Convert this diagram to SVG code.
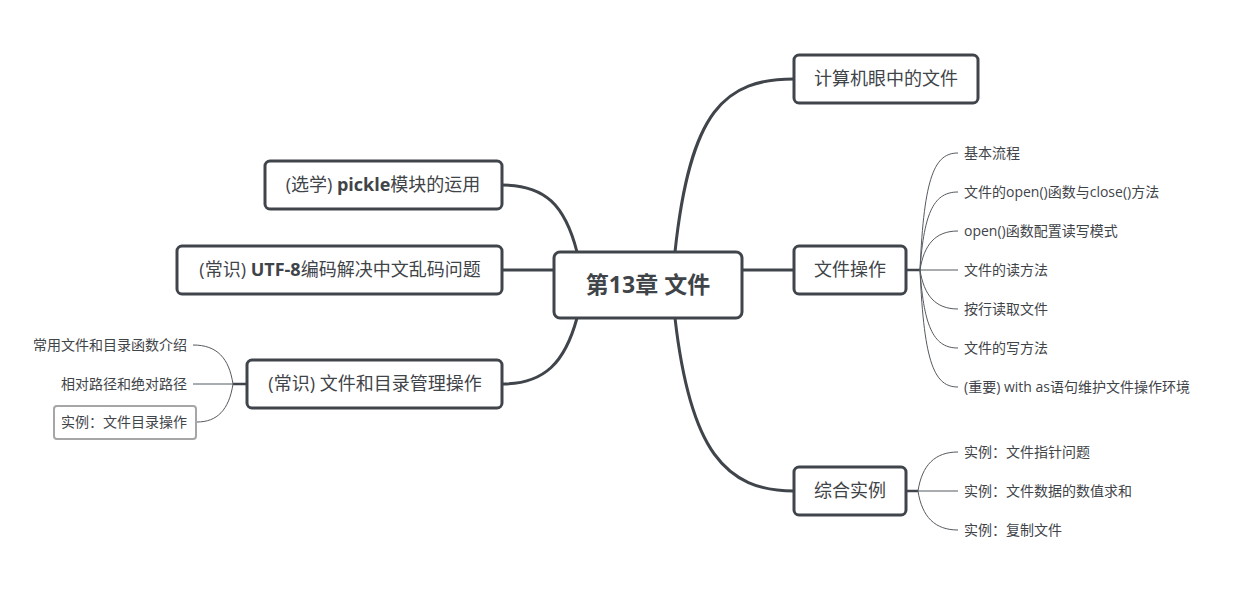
<svg xmlns="http://www.w3.org/2000/svg" width="1240" height="596" viewBox="0 0 1240 596">
<style>
.main{fill:#fff;stroke:#40454c;stroke-width:3}
.t{font-family:"Open Sans","Noto Sans CJK SC",sans-serif;fill:#3f4449}
.m{font-size:18px;text-anchor:middle}
.s{font-size:14px}
.c{fill:none;stroke:#40454c;stroke-width:3}
.sc{fill:none;stroke:#555a60;stroke-width:1}
.stub{fill:none;stroke:#40454c;stroke-width:2.5}
</style>
<rect width="1240" height="596" fill="#fff"/>
<g id="connectors">
<path class="c" d="M675 252 C690 110 725 79 794 79"/>
<path class="c" d="M742 270 L794 270"/>
<path class="c" d="M675 318 C690 450 725 491 794 491"/>
<path class="c" d="M577 252 C565 205 545 185 502 185"/>
<path class="c" d="M554 270 L502 270"/>
<path class="c" d="M577 318 C565 362 545 384 502 384"/>
<path class="stub" d="M906 270 L920 270"/>
<path class="sc" d="M920 270 C924 175 935 153 958 153"/>
<path class="sc" d="M920 270 C924 210 935 192 958 192"/>
<path class="sc" d="M920 270 C924 245 935 231 958 231"/>
<path class="sc" d="M920 270 L958 270"/>
<path class="sc" d="M920 270 C924 295 935 309 958 309"/>
<path class="sc" d="M920 270 C924 330 935 348 958 348"/>
<path class="sc" d="M920 270 C924 365 935 387 958 387"/>
<path class="stub" d="M906 491 L918 491"/>
<path class="sc" d="M918 491 C922 465 935 452 958 452"/>
<path class="sc" d="M918 491 L958 491"/>
<path class="sc" d="M918 491 C922 517 935 530 958 530"/>
<path class="stub" d="M247 384 L233 384"/>
<path class="sc" d="M233 384 C229 358 217 345 193 345"/>
<path class="sc" d="M233 384 L193 384"/>
<path class="sc" d="M233 384 C229 410 217 422 197 422"/>
</g>
<g id="root">
<rect class="main" x="554" y="252" width="188" height="66" rx="6"/>
<text class="t" x="648" y="293" font-size="23" font-weight="bold" text-anchor="middle">第13章 文件</text>
</g>
<g id="n1">
<rect class="main" x="794" y="55" width="184" height="48" rx="5"/>
<text class="t m" x="886" y="85">计算机眼中的文件</text>
</g>
<g id="n2">
<rect class="main" x="794" y="246" width="112" height="48" rx="5"/>
<text class="t m" x="850" y="276">文件操作</text>
</g>
<g id="n3">
<rect class="main" x="794" y="467" width="112" height="48" rx="5"/>
<text class="t m" x="850" y="497">综合实例</text>
</g>
<g id="n4">
<rect class="main" x="265" y="161" width="237" height="48" rx="5"/>
<text class="t m" x="383" y="191">(选学) <tspan font-weight="bold">pickle</tspan>模块的运用</text>
</g>
<g id="n5">
<rect class="main" x="177" y="246" width="325" height="48" rx="5"/>
<text class="t m" x="340" y="276">(常识) <tspan font-weight="bold">UTF-8</tspan>编码解决中文乱码问题</text>
</g>
<g id="n6">
<rect class="main" x="247" y="360" width="255" height="48" rx="5"/>
<text class="t m" x="375" y="390">(常识) 文件和目录管理操作</text>
</g>
<g id="n2-children">
<text class="t s" x="964" y="158">基本流程</text>
<text class="t s" x="964" y="197">文件的open()函数与close()方法</text>
<text class="t s" x="964" y="236">open()函数配置读写模式</text>
<text class="t s" x="964" y="275">文件的读方法</text>
<text class="t s" x="964" y="314">按行读取文件</text>
<text class="t s" x="964" y="353">文件的写方法</text>
<text class="t s" x="964" y="392">(重要) with as语句维护文件操作环境</text>
</g>
<g id="n3-children">
<text class="t s" x="964" y="457">实例：文件指针问题</text>
<text class="t s" x="964" y="496">实例：文件数据的数值求和</text>
<text class="t s" x="964" y="535">实例：复制文件</text>
</g>
<g id="n6-children">
<text class="t s" x="187" y="350" text-anchor="end">常用文件和目录函数介绍</text>
<text class="t s" x="187" y="389" text-anchor="end">相对路径和绝对路径</text>
<rect x="54" y="406" width="142" height="33" rx="3" fill="#fff" stroke="#a6a6a6" stroke-width="2"/>
<text class="t s" x="187" y="427" text-anchor="end">实例：文件目录操作</text>
</g>
</svg>
